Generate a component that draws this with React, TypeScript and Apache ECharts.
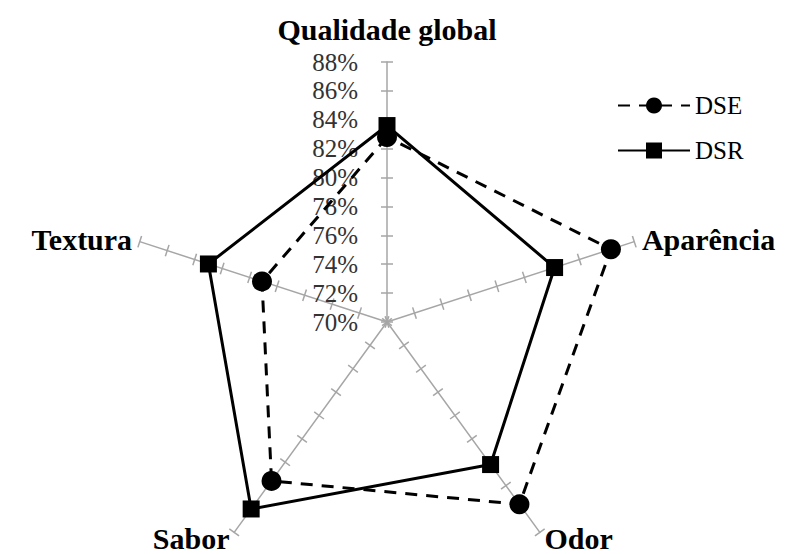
import React, { useEffect, useRef } from "react";
import * as echarts from "echarts";

const indicators = ["Qualidade global", "Textura", "Sabor", "Odor", "Aparência"];
const dseValues = [82.8, 79.1, 83.6, 85.6, 86.3];
const dsrValues = [83.6, 83.0, 86.0, 82.2, 82.2];
const axisMin = 70;
const axisMax = 88;
const axisStep = 2;
const seriesNames = ["DSE", "DSR"];

const FONT = "'Liberation Serif', 'Times New Roman', serif";

export default function App() {
  const ref = useRef<HTMLDivElement>(null);
  useEffect(() => {
    if (!ref.current) return;
    const chart = echarts.init(ref.current, null, { renderer: "svg" });
    const nameStyle = {
      color: "#000",
      fontFamily: FONT,
      fontWeight: "bold",
      fontSize: 30,
      lineHeight: 26,
    };
    const baseRadar = {
      center: [387, 322],
      radius: 260,
      startAngle: 90,
      splitNumber: (axisMax - axisMin) / axisStep,
      shape: "polygon",
      indicator: indicators.map((n) => ({ name: n, min: axisMin, max: axisMax })),
      axisLabel: { show: false },
      splitLine: { show: false },
      splitArea: { show: false },
    };
    chart.setOption({
      animation: false,
      backgroundColor: "#ffffff",
      legend: {
        data: seriesNames,
        orient: "vertical",
        left: 612,
        top: 88,
        itemWidth: 72,
        itemHeight: 20,
        itemGap: 20,
        textStyle: { fontFamily: FONT, fontSize: 25, color: "#000" },
      },
      grid: { left: 387, top: 62, height: 260, width: 10, containLabel: false },
      xAxis: { type: "value", show: false },
      yAxis: {
        type: "value",
        min: axisMin,
        max: axisMax,
        interval: axisStep,
        position: "left",
        axisLine: { show: false },
        axisTick: { show: false },
        splitLine: { show: false },
        axisLabel: {
          margin: 29,
          formatter: "{value}%",
          fontFamily: FONT,
          fontSize: 25,
          color: "#333",
        },
      },
      radar: [
        {
          ...baseRadar,
          nameGap: 8,
          axisName: {
            ...nameStyle,
            formatter: (name: string) =>
              name === indicators[0] ? `{t|${name}}\n{g| }` : name,
            rich: {
              t: { ...nameStyle },
              g: { fontSize: 8, lineHeight: 12 },
            },
          },
          axisLine: { lineStyle: { color: "#a6a6a6", width: 1.5 } },
          axisTick: { show: true, length: 6, lineStyle: { color: "#a6a6a6", width: 1.5 } },
        },
        {
          ...baseRadar,
          axisName: { show: false },
          axisLine: { show: false },
          axisTick: {
            show: true,
            length: -6,
            lineStyle: { color: "#a6a6a6", width: 1.5 },
          },
        },
      ],
      series: [
        {
          name: "DSE",
          type: "line",
          data: [],
          symbol: "circle",
          symbolSize: 20,
          itemStyle: { color: "#000" },
          lineStyle: { color: "#000", width: 3, type: [12, 9] },
        },
        {
          name: "DSR",
          type: "line",
          data: [],
          symbol: "rect",
          symbolSize: 17,
          itemStyle: { color: "#000" },
          lineStyle: { color: "#000", width: 3, type: "solid" },
        },
        {
          name: "radar",
          type: "radar",
          radarIndex: 0,
          z: 3,
          data: [
            {
              name: "DSE",
              value: dseValues,
              symbol: "circle",
              symbolSize: 20,
              itemStyle: { color: "#000" },
              lineStyle: { color: "#000", width: 3, type: [12, 9] },
            },
            {
              name: "DSR",
              value: dsrValues,
              symbol: "rect",
              symbolSize: 17,
              itemStyle: { color: "#000" },
              lineStyle: { color: "#000", width: 3, type: "solid" },
            },
          ],
        },
      ],
    });
    return () => chart.dispose();
  }, []);
  return (
    <div
      ref={ref}
      style={{ position: "fixed", left: 0, top: 0, width: 794, height: 554 }}
    />
  );
}
